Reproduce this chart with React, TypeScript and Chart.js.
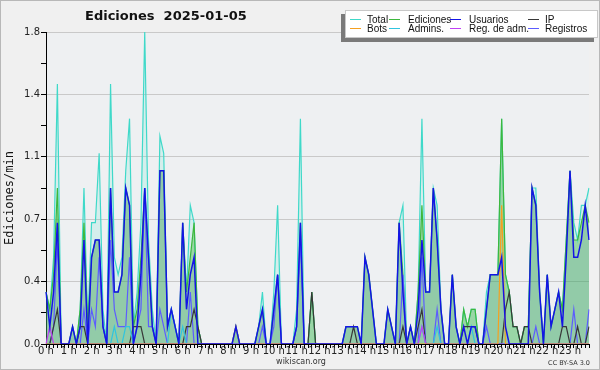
import { useEffect, useRef } from 'react';
import { Chart, registerables } from 'chart.js';

Chart.register(...registerables);

// ---- categories: 10-minute slots, 6 per hour ----
const HOUR_LABELS = ['0 h', '1 h', '2 h', '3 h', '4 h', '5 h', '6 h', '7 h', '8 h', '9 h', '10 h', '11 h',
  '12 h', '13 h', '14 h', '15 h', '16 h', '17 h', '18 h', '19 h', '20 h', '21 h', '22 h', '23 h'];
const SLOT_LABELS = HOUR_LABELS.flatMap((h) => [h, '', '', '', '', '']);

// ---- series (edits per minute, one value per 10 minutes) ----
const TOTAL = [
  0.3, 0.2, 0.5, 1.5, 0, 0, 0, 0.1, 0, 0.2, 0.9, 0.1,
  0.7, 0.7, 1.1, 0.2, 0, 1.5, 0.5, 0.4, 0.5, 1.0, 1.3, 0.1,
  0.3, 0.7, 1.8, 0.6, 0.2, 0, 1.2, 1.1, 0.1, 0.2, 0.1, 0,
  0.7, 0.3, 0.8, 0.7, 0.1, 0, 0, 0, 0, 0, 0, 0,
  0, 0, 0.1, 0, 0, 0, 0, 0, 0.1, 0.3, 0, 0,
  0.3, 0.8, 0, 0, 0, 0, 0.2, 1.3, 0, 0, 0.3, 0,
  0, 0, 0, 0, 0, 0, 0, 0.1, 0.1, 0.1, 0.1, 0,
  0.5, 0.4, 0.2, 0, 0, 0, 0.2, 0.1, 0, 0.7, 0.8, 0,
  0.1, 0, 0.3, 1.3, 0.3, 0.3, 0.9, 0.8, 0.2, 0, 0, 0.4,
  0.1, 0, 0.2, 0.1, 0.2, 0.2, 0, 0, 0.3, 0.4, 0.4, 0.4,
  1.3, 0.4, 0.3, 0.1, 0.1, 0, 0.1, 0.1, 0.9, 0.9, 0.3, 0,
  0.4, 0.1, 0.2, 0.3, 0.2, 0.6, 1.0, 0.7, 0.6, 0.8, 0.8, 0.9,
];
const EDICIONES = [
  0.3, 0.2, 0.4, 0.9, 0, 0, 0, 0.1, 0, 0.2, 0.7, 0.1,
  0.5, 0.6, 0.6, 0.1, 0, 0.9, 0.3, 0.3, 0.4, 0.9, 0.8, 0.1,
  0.2, 0.5, 0.9, 0.5, 0.1, 0, 1.0, 1.0, 0.1, 0.2, 0.1, 0,
  0.7, 0.3, 0.5, 0.7, 0.1, 0, 0, 0, 0, 0, 0, 0,
  0, 0, 0.1, 0, 0, 0, 0, 0, 0.1, 0.2, 0, 0,
  0.2, 0.4, 0, 0, 0, 0, 0.1, 0.7, 0, 0, 0.3, 0,
  0, 0, 0, 0, 0, 0, 0, 0.1, 0.1, 0.1, 0.1, 0,
  0.5, 0.4, 0.2, 0, 0, 0, 0.2, 0.1, 0, 0.7, 0.4, 0,
  0.1, 0, 0.3, 0.8, 0.3, 0.3, 0.9, 0.6, 0.2, 0, 0, 0.4,
  0.1, 0, 0.2, 0.1, 0.2, 0.2, 0, 0, 0.2, 0.4, 0.4, 0.4,
  1.3, 0.4, 0.3, 0.1, 0.1, 0, 0.1, 0.1, 0.9, 0.8, 0.3, 0,
  0.4, 0.1, 0.2, 0.3, 0.2, 0.6, 1.0, 0.6, 0.6, 0.7, 0.8, 0.7,
];
const USUARIOS = [
  0.3, 0.1, 0.3, 0.7, 0, 0, 0, 0.1, 0, 0.1, 0.6, 0,
  0.5, 0.6, 0.6, 0.1, 0, 0.9, 0.3, 0.3, 0.4, 0.9, 0.8, 0,
  0.1, 0.4, 0.9, 0.5, 0.1, 0, 1.0, 1.0, 0.1, 0.2, 0.1, 0,
  0.7, 0.2, 0.4, 0.5, 0, 0, 0, 0, 0, 0, 0, 0,
  0, 0, 0.1, 0, 0, 0, 0, 0, 0.1, 0.2, 0, 0,
  0.2, 0.4, 0, 0, 0, 0, 0.1, 0.7, 0, 0, 0, 0,
  0, 0, 0, 0, 0, 0, 0, 0.1, 0.1, 0.1, 0.1, 0,
  0.5, 0.4, 0.2, 0, 0, 0, 0.2, 0.1, 0, 0.7, 0.3, 0,
  0.1, 0, 0.2, 0.6, 0.3, 0.3, 0.9, 0.6, 0.2, 0, 0, 0.4,
  0.1, 0, 0.1, 0, 0.1, 0.1, 0, 0, 0.2, 0.4, 0.4, 0.4,
  0.5, 0.1, 0, 0, 0, 0, 0, 0, 0.9, 0.8, 0.3, 0,
  0.4, 0.1, 0.2, 0.3, 0.1, 0.5, 1.0, 0.5, 0.5, 0.6, 0.8, 0.6,
];
const IP = [
  0, 0, 0.1, 0.2, 0, 0, 0, 0, 0, 0.1, 0.1, 0,
  0, 0, 0, 0, 0, 0, 0, 0, 0, 0, 0, 0.1,
  0.1, 0.1, 0, 0, 0, 0, 0, 0, 0, 0, 0, 0,
  0, 0.1, 0.1, 0.2, 0.1, 0, 0, 0, 0, 0, 0, 0,
  0, 0, 0, 0, 0, 0, 0, 0, 0, 0, 0, 0,
  0, 0, 0, 0, 0, 0, 0, 0, 0, 0, 0.3, 0,
  0, 0, 0, 0, 0, 0, 0, 0, 0, 0.1, 0, 0,
  0, 0, 0, 0, 0, 0, 0, 0, 0, 0, 0.1, 0,
  0, 0, 0.1, 0.2, 0, 0, 0, 0, 0, 0, 0, 0,
  0, 0, 0.1, 0.1, 0.1, 0.1, 0, 0, 0, 0, 0, 0,
  0, 0.2, 0.3, 0.1, 0.1, 0, 0.1, 0.1, 0, 0, 0, 0,
  0, 0, 0, 0, 0.1, 0.1, 0, 0, 0.1, 0, 0, 0.1,
];
const BOTS = [
  0, 0, 0, 0, 0, 0, 0, 0, 0, 0, 0, 0,
  0, 0, 0, 0, 0, 0, 0, 0, 0, 0, 0, 0,
  0, 0, 0, 0, 0, 0, 0, 0, 0, 0, 0, 0,
  0, 0, 0, 0, 0, 0, 0, 0, 0, 0, 0, 0,
  0, 0, 0.1, 0, 0, 0, 0, 0, 0, 0, 0, 0,
  0, 0, 0, 0, 0, 0, 0, 0, 0, 0, 0, 0,
  0, 0, 0, 0, 0, 0, 0, 0, 0, 0, 0, 0,
  0, 0, 0, 0, 0, 0, 0, 0, 0, 0, 0, 0,
  0, 0, 0, 0, 0, 0, 0, 0, 0, 0, 0, 0,
  0, 0, 0, 0, 0, 0, 0, 0, 0, 0, 0, 0,
  0.8, 0, 0, 0, 0, 0, 0, 0, 0, 0, 0, 0,
  0, 0, 0, 0, 0, 0, 0, 0, 0, 0, 0, 0,
];
const ADMINS = [
  0, 0, 0, 0, 0, 0, 0, 0, 0, 0, 0, 0,
  0, 0, 0, 0, 0, 0, 0.1, 0, 0, 0.1, 0.1, 0,
  0, 0, 0, 0, 0, 0, 0, 0, 0, 0.2, 0.1, 0,
  0.1, 0, 0, 0, 0, 0, 0, 0, 0, 0, 0, 0,
  0, 0, 0, 0, 0, 0, 0, 0, 0, 0, 0, 0,
  0, 0, 0, 0, 0, 0, 0, 0, 0, 0, 0, 0,
  0, 0, 0, 0, 0, 0, 0, 0, 0, 0, 0, 0,
  0, 0, 0, 0, 0, 0, 0, 0, 0, 0, 0, 0,
  0, 0, 0, 0.1, 0, 0, 0, 0.1, 0, 0, 0, 0,
  0, 0, 0, 0, 0.1, 0, 0, 0, 0, 0, 0, 0,
  0, 0, 0, 0, 0, 0, 0, 0, 0, 0, 0, 0,
  0, 0, 0, 0, 0, 0, 0, 0, 0, 0, 0, 0,
];
const REG_ADM = [
  0, 0.1, 0, 0, 0, 0, 0, 0, 0, 0, 0, 0,
  0, 0, 0, 0, 0, 0, 0, 0, 0, 0, 0, 0,
  0, 0, 0, 0, 0, 0, 0, 0, 0, 0, 0, 0,
  0, 0, 0, 0, 0, 0, 0, 0, 0, 0, 0, 0,
  0, 0, 0, 0, 0, 0, 0, 0, 0, 0, 0, 0,
  0, 0, 0, 0, 0, 0, 0, 0, 0, 0, 0, 0,
  0, 0, 0, 0, 0, 0, 0, 0, 0, 0, 0, 0,
  0, 0, 0, 0, 0, 0, 0, 0, 0, 0, 0, 0,
  0, 0, 0, 0.1, 0, 0, 0, 0, 0, 0, 0, 0,
  0, 0, 0, 0, 0, 0, 0, 0, 0, 0, 0, 0,
  0, 0, 0, 0, 0, 0, 0, 0, 0, 0, 0, 0,
  0, 0, 0, 0, 0, 0, 0, 0, 0, 0, 0, 0,
];
const REGISTROS = [
  0, 0, 0.1, 0.6, 0, 0, 0, 0, 0, 0, 0.2, 0,
  0.2, 0.1, 0.5, 0.1, 0, 0.6, 0.2, 0.1, 0.1, 0.1, 0.5, 0,
  0.1, 0.2, 0.9, 0.1, 0.1, 0, 0.2, 0.1, 0, 0, 0, 0,
  0, 0, 0.3, 0, 0, 0, 0, 0, 0, 0, 0, 0,
  0, 0, 0, 0, 0, 0, 0, 0, 0, 0.1, 0, 0,
  0.1, 0.4, 0, 0, 0, 0, 0.1, 0.6, 0, 0, 0, 0,
  0, 0, 0, 0, 0, 0, 0, 0, 0, 0, 0, 0,
  0, 0, 0, 0, 0, 0, 0, 0, 0, 0, 0.4, 0,
  0, 0, 0, 0.5, 0, 0, 0, 0.2, 0, 0, 0, 0,
  0, 0, 0, 0, 0, 0, 0, 0, 0.1, 0, 0, 0,
  0, 0, 0, 0, 0, 0, 0, 0, 0, 0.1, 0, 0,
  0, 0, 0, 0, 0, 0, 0, 0.2, 0, 0, 0, 0.2,
];

const Y_MAX = 1.8;
const Y_STEP = 0.18;
const TITLE = 'Ediciones  2025-01-05';
const Y_TITLE = 'Ediciones/min';
const FOOTER = 'wikiscan.org';
const LICENSE = 'CC BY-SA 3.0';

// legend grid: row 1 then row 2
const LEGEND_ROWS = [
  ['Total', 'Ediciones', 'Usuarios', 'IP'],
  ['Bots', 'Admins.', 'Reg. de adm.', 'Registros'],
];

const COLORS: Record<string, string> = {
  Total: '#3fd9c9',
  Ediciones: '#3db83d',
  Usuarios: '#1414e6',
  IP: '#383838',
  Bots: '#f5a020',
  'Admins.': '#30c4df',
  'Reg. de adm.': '#c040f5',
  Registros: '#5c5cff',
};

const decorPlugin = {
  id: 'decor',
  beforeDraw(chart: any) {
    const { ctx, width, height, chartArea: a } = chart;
    ctx.save();
    ctx.fillStyle = '#f0f0f0';
    ctx.fillRect(0, 0, width, height);
    ctx.strokeStyle = '#b8b8b8';
    ctx.lineWidth = 1;
    ctx.strokeRect(0.5, 0.5, width - 1, height - 1);
    ctx.fillStyle = '#eef0f2';
    ctx.fillRect(a.left, a.top, a.right - a.left, a.bottom - a.top);
    ctx.restore();
  },
  afterDraw(chart: any) {
    const { ctx } = chart;
    ctx.save();
    // title
    ctx.fillStyle = '#111';
    ctx.font = 'bold 13px "DejaVu Sans"';
    ctx.textBaseline = 'middle';
    ctx.textAlign = 'left';
    ctx.fillText(TITLE, 85, 17);

    // y axis title
    ctx.save();
    ctx.translate(10, 198);
    ctx.rotate(-Math.PI / 2);
    ctx.font = '12px "DejaVu Sans Mono"';
    ctx.textAlign = 'center';
    ctx.textBaseline = 'middle';
    ctx.fillStyle = '#111';
    ctx.fillText(Y_TITLE, 0, 0);
    ctx.restore();

    // legend box with shadow
    const bx = 345, by = 10, bw = 253, bh = 28;
    ctx.fillStyle = '#7a7a7a';
    ctx.fillRect(bx - 4, by + 4, bw, bh);
    ctx.fillStyle = '#ffffff';
    ctx.fillRect(bx, by, bw, bh);
    ctx.strokeStyle = '#c8c8c8';
    ctx.lineWidth = 1;
    ctx.strokeRect(bx + 0.5, by + 0.5, bw - 1, bh - 1);
    const lineX = [350, 389, 450, 528];
    const textX = [367, 408, 469, 545];
    const rowY = [19.5, 28.5];
    ctx.font = '10px "Liberation Sans"';
    ctx.textBaseline = 'middle';
    LEGEND_ROWS.forEach((row, r) => {
      row.forEach((label, c) => {
        ctx.strokeStyle = COLORS[label];
        ctx.lineWidth = 1;
        ctx.beginPath();
        ctx.moveTo(lineX[c], rowY[r]);
        ctx.lineTo(lineX[c] + 11, rowY[r]);
        ctx.stroke();
        ctx.fillStyle = '#111';
        ctx.fillText(label, textX[c], rowY[r] + 0.5);
      });
    });

    // footer
    ctx.fillStyle = '#333';
    ctx.font = '8px "DejaVu Sans"';
    ctx.textAlign = 'center';
    ctx.fillText(FOOTER, 301, 362);
    ctx.font = '6.5px "DejaVu Sans"';
    ctx.textAlign = 'right';
    ctx.fillText(LICENSE, 590, 363);
    ctx.restore();
  },
};

function line(label: string, data: number[], order: number, extra: any = {}) {
  return {
    label,
    data,
    order,
    borderColor: COLORS[label],
    borderWidth: 1.2,
    pointRadius: 0,
    tension: 0,
    fill: false,
    ...extra,
  };
}

export default function App() {
  const ref = useRef<HTMLCanvasElement>(null);
  useEffect(() => {
    document.body.style.margin = '0';
    const canvas = ref.current!;
    const chart = new Chart(canvas, {
      type: 'line',
      data: {
        labels: SLOT_LABELS,
        datasets: [
          line('Usuarios', USUARIOS, 1, { fill: 'origin', backgroundColor: 'rgba(30,30,200,0.06)', borderWidth: 1.5 }),
          line('Bots', BOTS, 2),
          line('Reg. de adm.', REG_ADM, 3),
          line('Admins.', ADMINS, 4),
          line('IP', IP, 5),
          line('Registros', REGISTROS, 6),
          line('Ediciones', EDICIONES, 7, { fill: 'origin', backgroundColor: 'rgba(62,178,62,0.4)' }),
          line('Total', TOTAL, 8, { fill: 'origin', backgroundColor: 'rgba(64,224,208,0.14)' }),
        ] as any,
      },
      options: {
        responsive: false,
        animation: false,
        devicePixelRatio: 1,
        layout: { padding: { top: 32, right: 11, left: 0, bottom: 0 } },
        plugins: {
          legend: { display: false },
          title: { display: false },
          tooltip: { enabled: false },
          filler: { drawTime: 'beforeDatasetsDraw', propagate: false },
        } as any,
        scales: {
          x: {
            type: 'category',
            offset: false,
            z: 1,
            grid: {
              display: true,
              drawOnChartArea: false,
              drawTicks: true,
              tickLength: 4,
              tickColor: '#000',
              color: '#000',
            },
            border: { display: true, color: '#000', width: 1 },
            ticks: {
              autoSkip: false,
              maxRotation: 0,
              minRotation: 0,
              padding: -3,
              color: '#222',
              font: { family: 'DejaVu Sans', size: 10 },
              callback: (_v: any, i: number) => SLOT_LABELS[i],
            },
            afterFit: (s: any) => { s.height = 26; },
          },
          y: {
            type: 'linear',
            min: 0,
            max: Y_MAX,
            grid: {
              drawOnChartArea: true,
              drawTicks: true,
              tickLength: 5,
              tickColor: '#000',
              color: (c: any) => (c.index % 2 === 0 && c.index > 0 ? '#c9c9c9' : 'rgba(0,0,0,0)'),
            },
            border: { display: true, color: '#000', width: 1 },
            ticks: {
              stepSize: Y_STEP,
              padding: 1,
              color: '#222',
              font: { family: 'DejaVu Sans', size: 10 },
              callback: (v: any) => {
                const idx = Math.round(Number(v) / Y_STEP);
                return idx % 2 === 0 ? Number(v).toFixed(1) : '';
              },
            },
            afterFit: (s: any) => { s.width = 46; },
          },
        } as any,
      },
      plugins: [decorPlugin],
    });
    return () => chart.destroy();
  }, []);
  return (
    <div style={{ width: 600, height: 370 }}>
      <canvas ref={ref} width={600} height={370} style={{ display: 'block' }} />
    </div>
  );
}
